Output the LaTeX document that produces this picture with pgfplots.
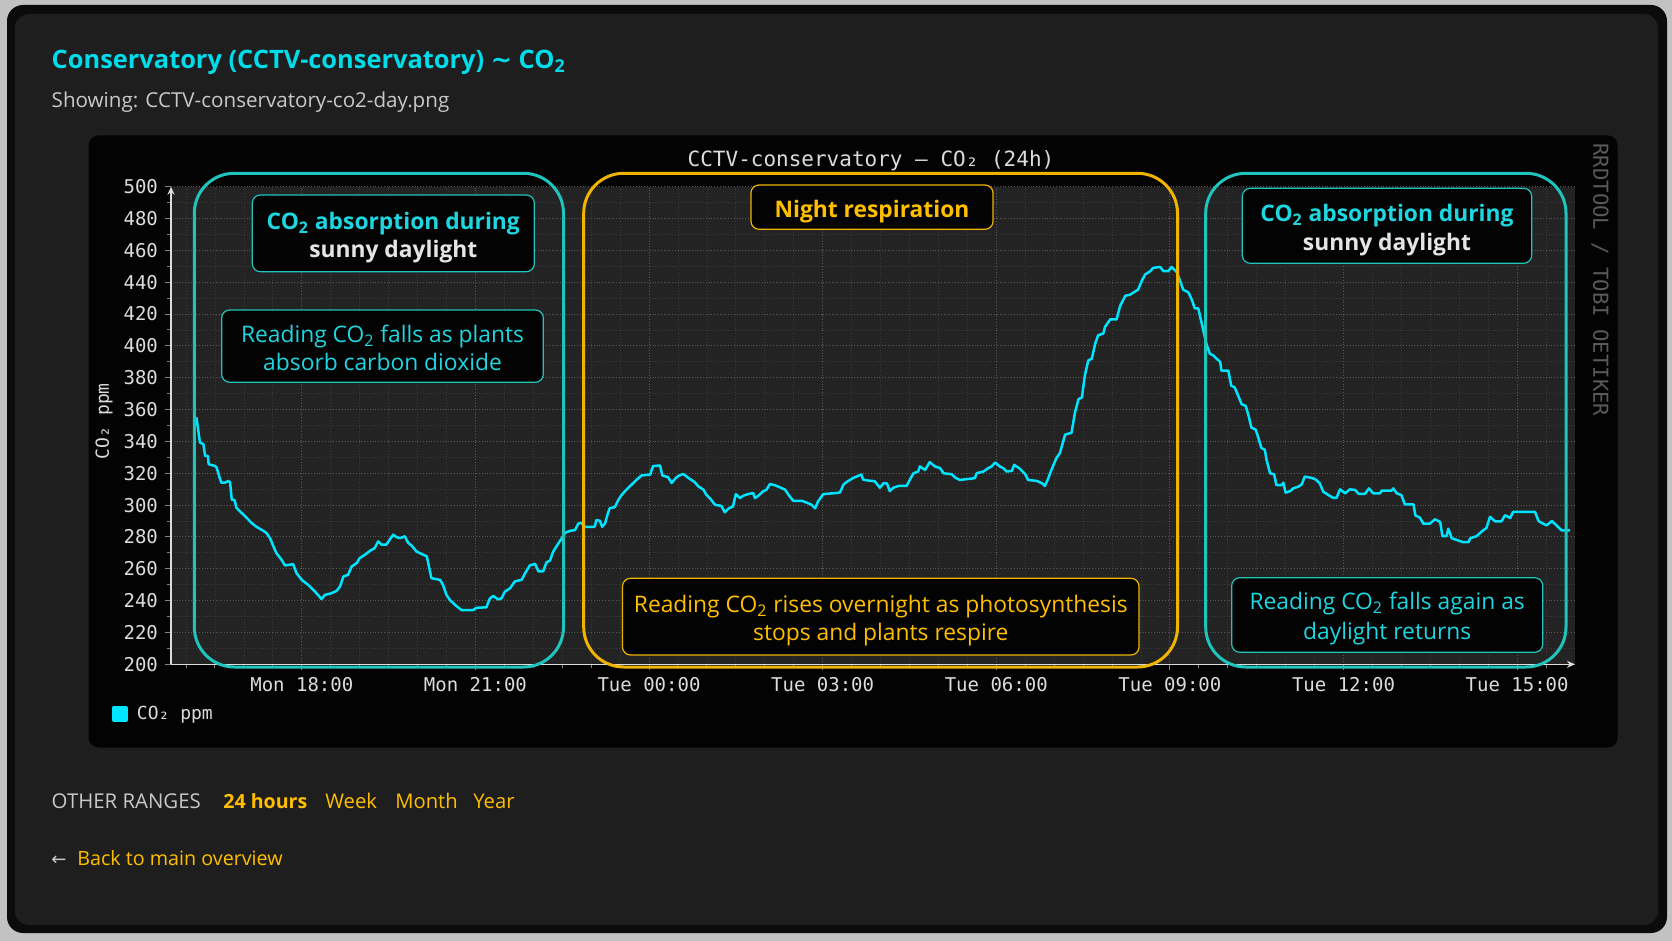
\documentclass[border=0pt]{standalone}
\usepackage{fontspec}
\setmainfont{Open Sans}
\setmonofont{DejaVu Sans Mono}
\newfontfamily\dejavu{DejaVu Sans}
\usepackage{pgfplots}
\pgfplotsset{compat=1.18}
\usetikzlibrary{arrows.meta}
\definecolor{pagegray}{HTML}{C2C2C2}
\definecolor{frameblack}{HTML}{0B0B0B}
\definecolor{panel}{HTML}{1E1E1E}
\definecolor{chartbg}{HTML}{030303}
\definecolor{plotbg}{HTML}{232323}
\definecolor{gridmaj}{HTML}{5A5A5A}
\definecolor{gridmin}{HTML}{3A3A3A}
\definecolor{tickgray}{HTML}{DCDCDC}
\definecolor{curvecyan}{HTML}{00E5FF}
\definecolor{tealbox}{HTML}{1FC4BD}
\definecolor{cyantext}{HTML}{1ED6E0}
\definecolor{titlecyan}{HTML}{00DCEA}
\definecolor{amber}{HTML}{FFBF00}
\definecolor{amberbox}{HTML}{F0B400}
\definecolor{subgray}{HTML}{C8C8C8}
\definecolor{wm}{HTML}{5A5A5A}
\definecolor{innerfill}{HTML}{030303}
\newcommand{\ann}{\fontsize{11.4}{14}\selectfont}
\newcommand{\mono}[1]{\ttfamily\fontsize{#1}{#1}\selectfont}
\pgfplotstableread{
h v
16.18 355.1
16.22 344.6
16.24 339.3
16.30 338.3
16.33 330.9
16.38 330.9
16.39 325.7
16.50 324.6
16.53 323.5
16.58 317.2
16.61 314.1
16.67 314.1
16.73 315.1
16.76 314.5
16.79 303.5
16.84 303.1
16.87 298.3
16.96 295.1
17.05 292.0
17.13 288.8
17.22 286.3
17.33 284.0
17.39 282.5
17.45 279.3
17.51 274.1
17.56 269.9
17.65 265.7
17.71 262.1
17.85 262.9
17.91 257.2
18.00 253.0
18.11 249.9
18.20 246.7
18.28 243.6
18.34 241.0
18.40 243.6
18.51 244.6
18.60 246.1
18.66 248.8
18.72 255.2
18.80 256.2
18.86 261.4
18.95 263.6
19.00 266.7
19.09 268.8
19.18 271.3
19.26 273.0
19.32 277.2
19.38 275.1
19.46 275.1
19.52 278.3
19.58 281.4
19.64 279.8
19.70 279.3
19.78 280.4
19.84 276.2
19.90 274.5
19.98 270.9
20.10 268.8
20.16 267.8
20.24 254.1
20.39 253.0
20.44 249.9
20.50 243.6
20.56 240.4
20.65 237.2
20.76 234.1
20.96 234.1
21.02 235.5
21.19 235.8
21.25 241.4
21.31 242.9
21.39 240.8
21.45 241.4
21.51 245.7
21.60 247.8
21.68 252.0
21.80 253.1
21.86 257.3
21.94 262.1
22.03 263.1
22.09 258.4
22.17 258.4
22.23 264.1
22.29 265.2
22.34 270.5
22.43 275.8
22.49 279.0
22.55 282.6
22.63 283.8
22.72 284.3
22.78 288.5
22.83 288.9
22.89 286.4
23.06 286.4
23.09 290.6
23.15 290.2
23.19 286.4
23.24 288.5
23.29 294.9
23.32 298.0
23.41 298.7
23.47 303.3
23.53 306.5
23.58 308.6
23.70 312.9
23.79 316.1
23.87 318.6
24.02 319.2
24.07 324.5
24.19 324.9
24.23 318.6
24.33 317.5
24.39 313.9
24.45 316.5
24.50 318.2
24.59 319.6
24.68 317.1
24.79 314.4
24.85 311.8
24.94 309.7
24.99 306.5
25.05 304.4
25.14 300.2
25.25 299.5
25.31 295.5
25.38 298.0
25.45 299.1
25.50 306.9
25.57 304.4
25.63 305.9
25.71 306.9
25.80 307.6
25.83 304.4
25.89 305.9
25.97 308.6
26.03 309.7
26.09 313.3
26.18 312.4
26.26 311.2
26.35 309.7
26.41 306.5
26.49 302.7
26.64 302.7
26.75 301.2
26.81 300.2
26.87 298.0
26.92 302.3
27.01 306.9
27.24 307.6
27.30 308.0
27.36 312.9
27.41 314.4
27.53 317.1
27.67 319.2
27.70 316.0
27.79 315.4
27.90 315.0
27.99 310.9
28.05 313.7
28.11 313.7
28.16 308.8
28.22 310.9
28.31 312.0
28.45 312.0
28.51 316.2
28.57 320.0
28.65 321.1
28.68 324.3
28.77 322.1
28.85 327.0
28.94 324.3
29.03 323.2
29.09 320.0
29.23 319.4
29.29 317.3
29.37 315.8
29.46 316.2
29.63 316.9
29.66 320.0
29.78 321.1
29.86 323.2
29.92 324.3
29.98 326.8
30.06 324.3
30.12 323.2
30.18 321.1
30.27 321.5
30.31 325.3
30.41 322.8
30.50 319.4
30.55 315.8
30.70 315.2
30.79 313.7
30.84 312.0
30.90 316.9
30.93 320.0
30.99 325.3
31.04 329.6
31.10 332.7
31.19 344.3
31.30 345.4
31.36 358.1
31.42 366.5
31.48 367.6
31.53 381.3
31.59 390.9
31.65 391.9
31.71 401.4
31.76 406.7
31.85 407.8
31.88 412.0
31.97 416.7
32.08 416.7
32.14 425.1
32.23 431.5
32.31 432.1
32.40 434.2
32.45 435.3
32.51 440.5
32.57 444.8
32.66 446.9
32.71 449.0
32.83 449.6
32.89 446.9
32.97 446.9
33.03 449.6
33.12 446.3
33.18 440.5
33.23 435.3
33.32 433.6
33.38 428.9
33.43 423.6
33.49 423.6
33.55 414.1
33.61 404.6
33.63 401.4
33.69 395.1
33.75 394.0
33.81 391.9
33.87 389.8
33.89 384.5
34.01 384.5
34.06 375.0
34.12 373.9
34.18 368.7
34.24 363.4
34.31 362.3
34.36 356.0
34.41 348.6
34.48 347.5
34.53 342.2
34.58 335.9
34.64 334.8
34.67 328.5
34.73 320.0
34.80 319.4
34.84 312.6
34.93 312.6
34.96 314.1
35.00 307.8
35.08 308.8
35.13 310.5
35.22 311.6
35.28 313.1
35.33 317.9
35.42 317.3
35.51 316.4
35.59 313.7
35.65 308.4
35.74 306.3
35.82 304.6
35.88 304.6
35.94 309.9
36.03 307.4
36.11 309.9
36.20 309.5
36.26 307.1
36.37 307.1
36.44 310.5
36.51 307.4
36.63 307.4
36.66 309.1
36.83 309.1
36.86 310.5
36.92 307.4
37.00 306.3
37.06 300.4
37.21 300.4
37.24 293.6
37.32 292.1
37.38 288.3
37.49 288.3
37.58 291.1
37.67 289.4
37.71 280.5
37.78 280.5
37.81 285.2
37.87 279.2
37.98 277.8
38.07 276.7
38.16 276.7
38.19 279.2
38.30 280.5
38.39 283.5
38.47 285.6
38.53 292.6
38.62 289.8
38.73 289.8
38.79 293.6
38.88 291.9
38.93 295.7
39.31 295.7
39.37 290.0
39.45 288.3
39.51 287.3
39.60 290.0
39.65 288.3
39.71 286.2
39.77 284.1
39.91 284.1
}\cotwo
\begin{document}
\begin{tikzpicture}
\begin{scope}[x=0.5pt,y=-0.5pt]
\path[use as bounding box] (0,0) rectangle (1672,941);
\fill[pagegray] (0,0) rectangle (1672,941);
\fill[frameblack, rounded corners=8pt] (7,5) rectangle (1667,933);
\fill[panel, rounded corners=7pt] (15,14) rectangle (1658,925);
\fill[chartbg, rounded corners=5pt] (88.5,135.4) rectangle (1617.6,747.5);
\node[anchor=base west, inner sep=0pt, text=titlecyan, font=\bfseries\fontsize{12.7}{15}\selectfont] at (51.3,68.3) {Conservatory (CCTV-conservatory) {\dejavu\bfseries ∼} CO\textsubscript{2}};
\node[anchor=base west, inner sep=0pt, text=subgray, font=\fontsize{10.3}{12}\selectfont] at (51.3,107.3) {Showing: CCTV-conservatory-co2-day.png};
\node[anchor=base west, inner sep=0pt, text=subgray, font=\fontsize{10.2}{12}\selectfont] at (51.3,808.3) {OTHER RANGES};
\node[anchor=base west, inner sep=0pt, text=amber, font=\bfseries\fontsize{9.8}{12}\selectfont] at (223,808.3) {24 hours};
\node[anchor=base west, inner sep=0pt, text=amber, font=\fontsize{10.1}{12}\selectfont] at (325,808.3) {Week};
\node[anchor=base west, inner sep=0pt, text=amber, font=\fontsize{10.1}{12}\selectfont] at (395,808.3) {Month};
\node[anchor=base west, inner sep=0pt, text=amber, font=\fontsize{10.1}{12}\selectfont] at (473,808.3) {Year};
\node[anchor=base west, inner sep=0pt, text=subgray, font=\dejavu\fontsize{9}{12}\selectfont] at (51,865) {←};
\node[anchor=base west, inner sep=0pt, text=amber, font=\fontsize{9.85}{12}\selectfont] at (77,865) {Back to main overview};
\node[rotate=-90, anchor=west, inner sep=0pt, text=wm, font=\mono{10.3}] at (1600,143) {RRDTOOL / TOBI OETIKER};
\end{scope}

\begin{axis}[
  at={(85.5pt,-332.15pt)}, anchor=south west,
  width=702pt, height=238.8pt, scale only axis,
  xmin=15.74, xmax=40.0, ymin=200, ymax=500,
  enlargelimits=false,
  axis lines=left,
  axis line style={draw=tickgray, line width=0.6pt, -{Stealth[length=4pt,width=3.5pt]}},
  axis background/.style={fill=plotbg},
  xtick={18,21,24,27,30,33,36,39},
  xticklabels={Mon 18:00,Mon 21:00,Tue 00:00,Tue 03:00,Tue 06:00,Tue 09:00,Tue 12:00,Tue 15:00},
  minor xtick={16,16.5,...,39.5},
  ytick={200,220,...,500},
  minor y tick num=1,
  grid=both,
  major grid style={densely dotted, line width=0.5pt, draw=gridmaj},
  minor grid style={densely dotted, line width=0.4pt, draw=gridmin},
  tick align=outside,
  major tick length=3pt, minor tick length=2pt,
  tick style={draw=gray, line width=0.5pt},
  /pgf/number format/assume math mode=true,
  /pgf/number format/1000 sep={},
  ticklabel style={font=\mono{9.5}, text=tickgray},
  ylabel={CO₂ ppm},
  ylabel style={at={(axis description cs:-0.0477,0.509)}, anchor=center, font=\mono{9}, text=tickgray},
  legend style={draw=none, fill=none, font=\mono{9}, text=tickgray, at={(axis description cs:-0.042,-0.104)}, anchor=west, inner sep=0pt},
  legend image code/.code={\fill[curvecyan] (0pt,-3.2pt) rectangle (6.4pt,3.2pt); \path (9pt,0pt);},
]
\addplot[curvecyan, line width=1.25pt, line join=round] table[x=h, y=v] {\cotwo};
\addlegendentry{CO₂ ppm}
\end{axis}

\begin{scope}[x=0.5pt,y=-0.5pt]
\node[anchor=base, inner sep=0pt, text=tickgray, font=\mono{10.5}] at (871,166.7) {CCTV-conservatory – CO₂ (24h)};
% big region boxes
\draw[tealbox, line width=1.5pt, rounded corners=20pt] (194.3,173.3) rectangle (563.5,667);
\draw[amberbox, line width=1.5pt, rounded corners=20pt] (583.7,173.3) rectangle (1177.5,667);
\draw[tealbox, line width=1.5pt, rounded corners=20pt] (1205.7,173.3) rectangle (1566,667);
% inner boxes
\draw[tealbox, line width=0.6pt, fill=innerfill, rounded corners=4pt] (252.3,195) rectangle (534.3,271.7);
\node[anchor=base, inner sep=0pt, text=cyantext, font=\bfseries\ann] at (393.3,229.3) {CO\textsubscript{2} absorption during};
\node[anchor=base, inner sep=0pt, text=white!90!black, font=\bfseries\ann] at (393.3,257.7) {sunny daylight};
\draw[tealbox, line width=0.6pt, fill=innerfill, rounded corners=4pt] (221.7,310) rectangle (543.3,382.3);
\node[anchor=base, inner sep=0pt, text=cyantext, font=\ann] at (382.5,342.3) {Reading CO\textsubscript{2} falls as plants};
\node[anchor=base, inner sep=0pt, text=cyantext, font=\ann] at (382.5,370.7) {absorb carbon dioxide};
\draw[amberbox, line width=0.6pt, fill=innerfill, rounded corners=4pt] (751,185) rectangle (993,229.3);
\node[anchor=base, inner sep=0pt, text=amber, font=\bfseries\ann] at (872,217.3) {Night respiration};
\draw[amberbox, line width=0.6pt, fill=innerfill, rounded corners=4pt] (622.5,578.3) rectangle (1139,655);
\node[anchor=base, inner sep=0pt, text=amber, font=\ann] at (880.8,612.3) {Reading CO\textsubscript{2} rises overnight as photosynthesis};
\node[anchor=base, inner sep=0pt, text=amber, font=\ann] at (880.8,640.7) {stops and plants respire};
\draw[tealbox, line width=0.6pt, fill=innerfill, rounded corners=4pt] (1242.3,188.3) rectangle (1531.7,263.3);
\node[anchor=base, inner sep=0pt, text=cyantext, font=\bfseries\ann] at (1387,221.7) {CO\textsubscript{2} absorption during};
\node[anchor=base, inner sep=0pt, text=white!90!black, font=\bfseries\ann] at (1387,250.7) {sunny daylight};
\draw[tealbox, line width=0.6pt, fill=innerfill, rounded corners=4pt] (1231.7,577.7) rectangle (1542.7,652.3);
\node[anchor=base, inner sep=0pt, text=cyantext, font=\ann] at (1387.2,609) {Reading CO\textsubscript{2} falls again as};
\node[anchor=base, inner sep=0pt, text=cyantext, font=\ann] at (1387.2,639) {daylight returns};
\end{scope}
\end{tikzpicture}
\end{document}
